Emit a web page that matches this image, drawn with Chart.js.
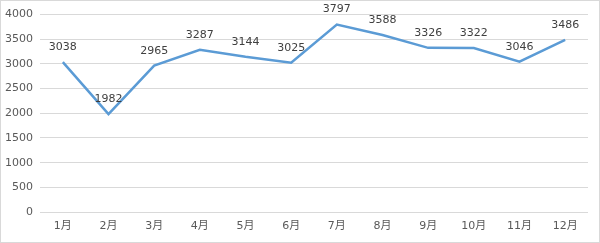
<!DOCTYPE html>
<html>
<head>
<meta charset="utf-8">
<script src="https://cdn.jsdelivr.net/npm/chart.js@4/dist/chart.umd.min.js"></script>
<style>
  body { margin: 0; background: #fff; }
  #wrap { width: 600px; height: 243px; box-sizing: border-box; border: 1px solid #d9d9d9; }
</style>
</head>
<body>
<div id="wrap"><canvas id="lineChart" width="598" height="241"></canvas></div>
<script>
// months and monthly values
var months = ["1月", "2月", "3月", "4月", "5月", "6月", "7月", "8月", "9月", "10月", "11月", "12月"];
var values = [3038, 1982, 2965, 3287, 3144, 3025, 3797, 3588, 3326, 3322, 3046, 3486];
var yTicks = [0, 500, 1000, 1500, 2000, 2500, 3000, 3500, 4000];

var fontFamily = "'DejaVu Sans', 'Noto Sans CJK SC', sans-serif";

// draw the value over each point
const valueLabels = {
    id: 'valueLabels',
    afterDatasetsDraw(chart) {
        const ctx = chart.ctx;
        const meta = chart.getDatasetMeta(0);
        ctx.save();
        ctx.font = "11px " + fontFamily;
        ctx.fillStyle = '#404040';
        ctx.textAlign = 'center';
        ctx.textBaseline = 'middle';
        meta.data.forEach(function (pt, i) {
            ctx.fillText(values[i], pt.x, pt.y - 15);
        });
        ctx.restore();
    }
};

new Chart("lineChart", {
    type: 'line',
    data: {
        labels: months,
        datasets: [{
            data: values,
            borderColor: '#5B9BD5',
            borderWidth: 2.5,
            pointRadius: 0,
            tension: 0,
            fill: false
        }]
    },
    options: {
        responsive: false,
        animation: false,
        layout: { padding: { top: 11, right: 11, left: 0, bottom: 0 } },
        plugins: {
            legend: { display: false },
            tooltip: { enabled: false }
        },
        scales: {
            x: {
                offset: true,
                grid: { display: false, drawTicks: false },
                border: { display: false },
                ticks: { color: '#595959', font: { family: fontFamily, size: 11 }, padding: 8, maxRotation: 0 },
                afterFit: function (s) { s.height = 30; }
            },
            y: {
                min: 0,
                max: 4000,
                afterBuildTicks: function (s) { s.ticks = yTicks.map(function (v) { return { value: v }; }); },
                grid: { color: '#d9d9d9', lineWidth: 1, drawTicks: false },
                border: { display: false },
                ticks: {
                    color: '#595959',
                    font: { family: fontFamily, size: 11 },
                    padding: 7,
                    callback: function (v) { return String(v); }
                },
                afterFit: function (s) { s.width = 39; }
            }
        }
    },
    plugins: [valueLabels]
});
</script>
</body>
</html>
